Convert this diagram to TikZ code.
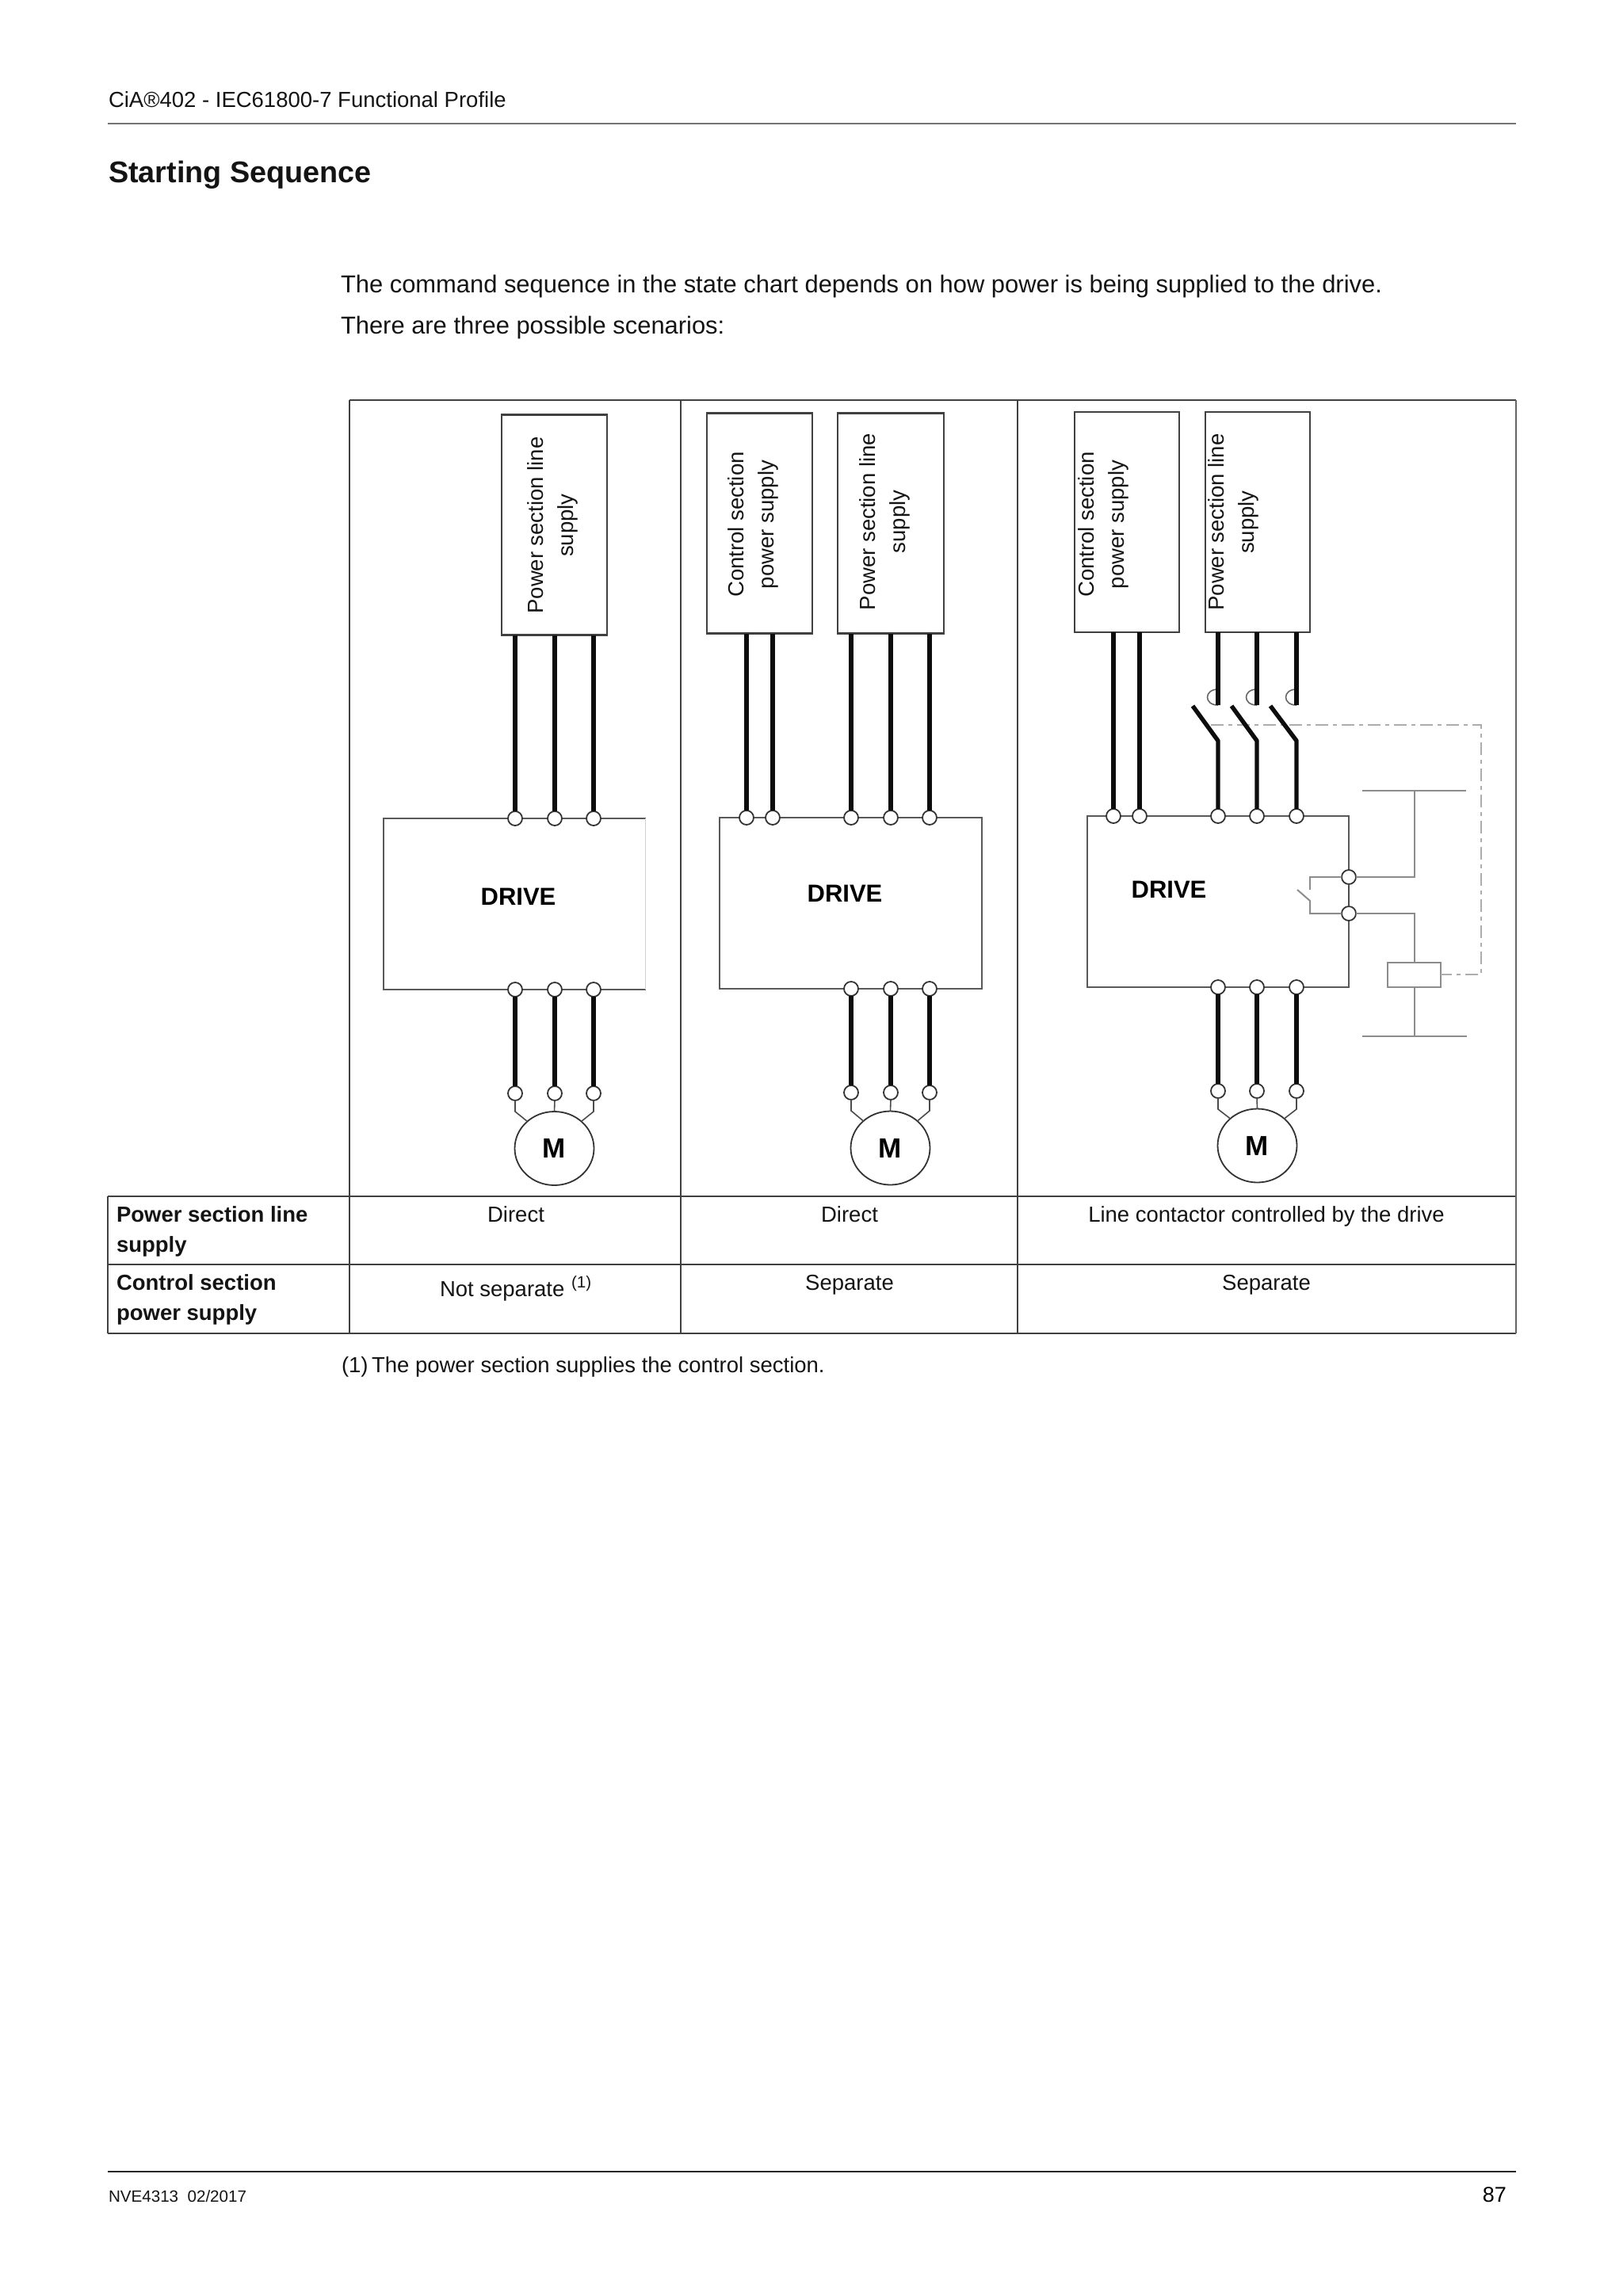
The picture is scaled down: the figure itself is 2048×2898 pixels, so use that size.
\documentclass[tikz,border=0pt]{standalone}
\usepackage{fontspec}
\setmainfont{Liberation Sans}
\usetikzlibrary{shapes.geometric}
\tikzset{
  txt/.style={anchor=base west,inner sep=0pt,outer sep=0pt,text=black!92},
  ctxt/.style={anchor=base,inner sep=0pt,outer sep=0pt,text=black!92},
  small/.style={font=\fontsize{13.75pt}{19pt}\selectfont},
  smallb/.style={font=\fontsize{13.75pt}{19pt}\selectfont\bfseries},
  body/.style={font=\fontsize{15.45pt}{19pt}\selectfont},
  ttl/.style={font=\fontsize{18.9pt}{22pt}\selectfont\bfseries},
  foot/.style={font=\fontsize{10.3pt}{12pt}\selectfont},
  supbox/.style={draw=black!75,line width=1.2pt,fill=white,inner sep=0pt,outer sep=0pt,minimum width=66.5pt,minimum height=139pt},
  drivebox/.style={draw=black!65,line width=1pt,fill=white,inner sep=0pt,outer sep=0pt,minimum width=165.5pt,minimum height=108pt},
  vlabel/.style={rotate=90,align=center,inner sep=0pt,outer sep=0pt,text=black!92,font=\fontsize{13.75pt}{19pt}\selectfont},
  term/.style={circle,draw=black!80,line width=.9pt,fill=white,inner sep=0pt,outer sep=0pt,minimum size=9pt},
  motor/.style={ellipse,draw=black!80,line width=.9pt,fill=white,inner sep=0pt,outer sep=0pt,minimum width=50pt,minimum height=46.5pt,font=\fontsize{17.5pt}{20pt}\selectfont\bfseries},
  drivelabel/.style={inner sep=0pt,outer sep=0pt,font=\fontsize{15.5pt}{18pt}\selectfont\bfseries},
  wire/.style={line width=2.7pt,black!95},
  lead/.style={line width=.8pt,black!70},
  tbl/.style={line width=.6pt,black!75},
  ctl/.style={line width=1pt,black!45},
  mech/.style={line width=1.1pt,black!32,dash pattern=on 8pt off 3pt on 2.5pt off 3pt},
  coilbox/.style={draw=black!45,line width=1pt,fill=white,inner sep=0pt,outer sep=0pt,minimum width=33.5pt,minimum height=15.5pt}
}
\begin{document}
\begin{tikzpicture}[x=.5pt,y=-.5pt]
\useasboundingbox[fill=white] (0,0) rectangle (2048,2898);
% page furniture
\node[txt,small] (hdr) at (137,135) {CiA®402 - IEC61800-7 Functional Profile};
\draw[line width=1pt,black!55] (136,156) -- (1913,156);
\node[txt,ttl] (title) at (137,230) {Starting Sequence};
\node[txt,body] (l1) at (430,369) {The command sequence in the state chart depends on how power is being supplied to the drive.};
\node[txt,body] (l2) at (430,421) {There are three possible scenarios:};
\draw[line width=.6pt,black!85] (136,2741) -- (1913,2741);
\node[txt,foot] (fl) at (137,2779) {NVE4313\ \ 02/2017};
\node[inner sep=0pt,outer sep=0pt,anchor=base east,font=\fontsize{13.5pt}{16pt}\selectfont] (pg) at (1901,2779) {87};
% table
\draw[tbl] (441,505) -- (1913,505);
\draw[tbl] (136,1510) -- (1913,1510);
\draw[tbl] (136,1596) -- (1913,1596);
\draw[tbl] (136,1683) -- (1913,1683);
\draw[tbl] (136,1510) -- (136,1683);
\draw[tbl] (441,505) -- (441,1683);
\draw[tbl] (859,505) -- (859,1683);
\draw[tbl] (1284,505) -- (1284,1683);
\draw[tbl,black!60] (1913,505) -- (1913,1683);
\node[txt,smallb] (c1) at (147,1542) {Power section line};
\node[txt,smallb] (c2) at (147,1580) {supply};
\node[txt,smallb] (c3) at (147,1628) {Control section};
\node[txt,smallb] (c4) at (147,1666) {power supply};
\node[ctxt,small] (c5) at (651,1542) {Direct};
\node[ctxt,small] (c6) at (1072,1542) {Direct};
\node[ctxt,small] (c7) at (1598,1542) {Line contactor controlled by the drive};
\node[txt,small] (c8) at (555,1636) {Not separate};
\node[txt,font=\fontsize{10.3pt}{12pt}\selectfont] (c8s) at (721,1625) {(1)};
\node[ctxt,small] (c9) at (1072,1628) {Separate};
\node[ctxt,small] (c10) at (1598,1628) {Separate};
\node[txt,small] (f1) at (431,1732) {(1)};
\node[txt,small] (f2) at (469,1732) {The power section supplies the control section.};

% ---- scenario 1
\node[supbox] (b1) at (699.5,662.5) {};
\node[vlabel] (b1t) at (697,663) {Power section line\\supply};
\node[drivebox,draw=none] (d1) at (649,1141) {};
\draw[line width=1pt,black!65] (d1.south east) -- (d1.south west) -- (d1.north west) -- (d1.north east);
\draw[line width=.8pt,black!18] (d1.north east) -- (d1.south east);
\node[drivelabel] (d1t) at (654,1132) {DRIVE};
\foreach \n/\x in {a/650,b/700,c/749}{
  \node[term] (i1\n) at (\x,1033) {};
  \node[term] (o1\n) at (\x,1249) {};
  \node[term] (k1\n) at (\x,1380) {};
  \draw[wire] (b1.south -| i1\n) -- (i1\n.north);
  \draw[wire] (o1\n.south) -- (k1\n.north);
}
\node[motor] (m1) at (699.5,1449.5) {M};
\draw[lead] (k1a.south) -- ++(0,14) -- (m1.135);
\draw[lead] (k1b.south) -- (m1.north);
\draw[lead] (k1c.south) -- ++(0,14) -- (m1.45);

% ---- scenario 2
\node[supbox] (b2a) at (958.5,660.5) {};
\node[vlabel] (b2at) at (950,662) {Control section\\power supply};
\node[supbox,minimum width=67pt] (b2b) at (1124,660.5) {};
\node[vlabel] (b2bt) at (1116,658.5) {Power section line\\supply};
\node[drivebox] (d2) at (1073.5,1140) {};
\node[drivelabel] (d2t) at (1066,1128) {DRIVE};
\foreach \n/\x in {a/942,b/975}{
  \node[term] (i2\n) at (\x,1032) {};
  \draw[wire] (b2a.south -| i2\n) -- (i2\n.north);
}
\foreach \n/\x in {c/1074,d/1124,e/1173}{
  \node[term] (i2\n) at (\x,1032) {};
  \node[term] (o2\n) at (\x,1248) {};
  \node[term] (k2\n) at (\x,1379) {};
  \draw[wire] (b2b.south -| i2\n) -- (i2\n.north);
  \draw[wire] (o2\n.south) -- (k2\n.north);
}
\node[motor] (m2) at (1123.5,1449) {M};
\draw[lead] (k2c.south) -- ++(0,14) -- (m2.135);
\draw[lead] (k2d.south) -- (m2.north);
\draw[lead] (k2e.south) -- ++(0,14) -- (m2.45);

% ---- scenario 3
\node[supbox,minimum width=66pt] (b3a) at (1422,659) {};
\node[vlabel] (b3at) at (1392,662) {Control section\\power supply};
\node[supbox,minimum width=66pt] (b3b) at (1587,659) {};
\node[vlabel] (b3bt) at (1556,659) {Power section line\\supply};
\node[drivebox,minimum width=165pt] (d3) at (1537,1138) {};
\node[drivelabel] (d3t) at (1475,1123) {DRIVE};
\foreach \n/\x in {a/1405,b/1438}{
  \node[term] (i3\n) at (\x,1030) {};
  \draw[wire] (b3a.south -| i3\n) -- (i3\n.north);
}
% mechanical link (behind the blades)
\coordinate (lk0) at (1528,915);
\coordinate (lk1) at (1869,915);
\coordinate (lk2) at (1869,1230);
\node[coilbox,minimum width=33.5pt] (coil) at (1784.5,1230.5) {};
\draw[mech] (lk0) -- (lk1) -- (lk2) -- (lk2 -| coil.east);
\foreach \n/\x/\bx in {c/1537/1505,d/1586/1554,e/1636/1603}{
  \node[term] (i3\n) at (\x,1030) {};
  \node[term] (o3\n) at (\x,1246) {};
  \node[term] (k3\n) at (\x,1377) {};
  \coordinate (fx\n) at (\x,890);
  \coordinate (cu\n) at (\x,870);
  \coordinate (bl\n) at (\x,935);
  \coordinate (bt\n) at (\bx,891);
  \draw[lead,black!60] (cu\n) .. controls ++(-18,0) and ([xshift=-9pt]fx\n) .. (fx\n);
  \draw[wire] (b3b.south -| i3\n) -- (fx\n);
  \draw[wire,line join=round] (bt\n) -- (bl\n) -- (i3\n.north);
  \draw[wire] (o3\n.south) -- (k3\n.north);
}
\node[motor] (m3) at (1586.5,1446) {M};
\draw[lead] (k3c.south) -- ++(0,14) -- (m3.135);
\draw[lead] (k3d.south) -- (m3.north);
\draw[lead] (k3e.south) -- ++(0,14) -- (m3.45);
% relay contact and coil
\node[term] (r1) at (1702,1107) {};
\node[term] (r2) at (1702,1153) {};
\coordinate (rl1) at (1653,1107);
\coordinate (rl2) at (1653,1123);
\coordinate (rl3) at (1653,1137);
\coordinate (rl4) at (1653,1153);
\coordinate (rb) at (1637,1123);
\draw[ctl] (r1.west) -- (rl1) -- (rl2);
\draw[ctl] (rb) -- (rl3) -- (rl4) -- (r2.west);
\draw[line width=.8pt,black!70] (r1.south) -- (r2.north);
\coordinate (rtop) at (1784.5,998);
\coordinate (rbot) at (1784.5,1308);
\coordinate (tl) at (1719,998);
\coordinate (tr) at (1850,998);
\coordinate (bl) at (1719,1308);
\coordinate (br) at (1851,1308);
\draw[ctl] (tl) -- (tr);
\draw[ctl] (bl) -- (br);
\draw[ctl] (rtop) -- (rtop |- r1) -- (r1.east);
\draw[ctl] (r2.east) -- (r2 -| coil.north) -- (coil.north);
\draw[ctl] (coil.south) -- (rbot);
\end{tikzpicture}
\end{document}
